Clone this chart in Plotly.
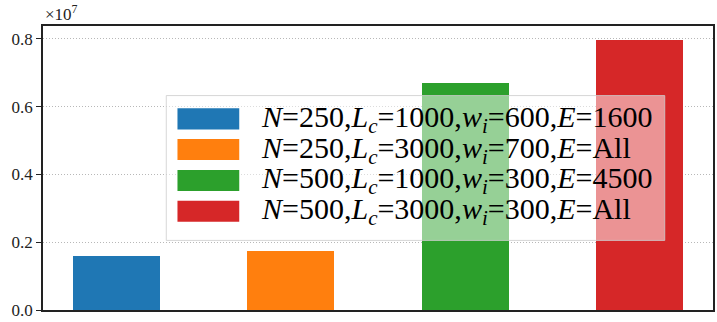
import plotly.graph_objects as go

# Data (values in units of 1e7)
N_VALS = [250, 250, 500, 500]
LC_VALS = [1000, 3000, 1000, 3000]
WI_VALS = [600, 700, 300, 300]
E_VALS = ['1600', 'All', '4500', 'All']
VALUES = [0.1606e7, 0.175e7, 0.669e7, 0.797e7]
COLORS = ['#1f77b4', '#ff7f0e', '#2ca02c', '#d62728']

FONT = 'Liberation Serif'

labels = [
    f'<i>N</i>={n},<i>L</i><sub><i>c</i></sub>={lc},<i>w</i><sub><i>i</i></sub>={wi},<i>E</i>={e}'
    for n, lc, wi, e in zip(N_VALS, LC_VALS, WI_VALS, E_VALS)
]

fig = go.Figure()
for i, (v, c, lab) in enumerate(zip(VALUES, COLORS, labels)):
    fig.add_trace(go.Bar(x=[i], y=[v], width=0.5, name=lab,
                         marker=dict(color=c, line=dict(width=0)),
                         showlegend=False))

# hand-drawn legend box (matplotlib style, wide swatches, half-transparent frame)
fig.add_shape(type='rect', xref='paper', yref='paper',
              x0=0.184, x1=0.928, y0=0.245, y1=0.755, layer='above',
              fillcolor='rgba(255,255,255,0.5)',
              line=dict(color='rgba(204,204,204,0.8)', width=1))
row_y = [0.673, 0.565, 0.456, 0.348]
for c, lab, yc in zip(COLORS, labels, row_y):
    fig.add_shape(type='rect', xref='paper', yref='paper',
                  x0=0.2007, x1=0.2929, y0=yc - 0.037, y1=yc + 0.037,
                  layer='above', fillcolor=c, line=dict(width=0))
    fig.add_annotation(xref='paper', yref='paper', x=0.322, y=yc,
                       xanchor='left', yanchor='middle', showarrow=False,
                       text=lab, font=dict(family=FONT, size=30, color='black'))

fig.add_annotation(xref='paper', yref='paper', x=0.0, y=1.0, yshift=0,
                   xanchor='left', yanchor='bottom', showarrow=False,
                   text='×10<sup>7</sup>', font=dict(family=FONT, size=17, color='#222'))

fig.update_layout(
    width=717, height=322,
    margin=dict(l=43, r=2, t=26, b=10),
    paper_bgcolor='white', plot_bgcolor='white',
    font=dict(family=FONT, size=17, color='black'),
    bargap=0,
)
fig.update_xaxes(range=[-0.425, 3.425], showticklabels=False, ticks='',
                 showgrid=False, zeroline=False,
                 showline=True, linecolor='#222', linewidth=1.5, mirror=True)
fig.update_yaxes(range=[0, 0.838e7], tickvals=[0, 0.2e7, 0.4e7, 0.6e7, 0.8e7],
                 ticktext=['0.0', '0.2', '0.4', '0.6', '0.8'],
                 tickfont=dict(family=FONT, size=17, color='#222'),
                 ticks='outside', ticklen=5, tickwidth=1.2, tickcolor='#222',
                 showgrid=True, gridcolor='#b8b8b8', griddash='1px,2px', gridwidth=1,
                 zeroline=False,
                 showline=True, linecolor='#222', linewidth=1.5, mirror=True)

fig.write_html('out.html', config={'displayModeBar': False},
               post_script="document.body.style.margin='0';")
